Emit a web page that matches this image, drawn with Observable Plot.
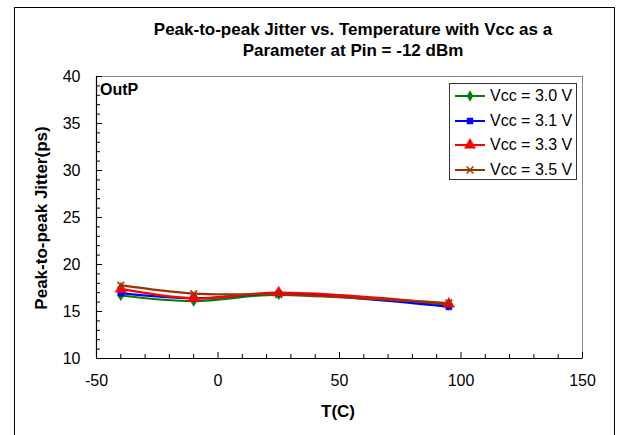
<!DOCTYPE html>
<html>
<head>
<meta charset="utf-8">
<script src="https://cdn.jsdelivr.net/npm/d3@7"></script>
<script src="https://cdn.jsdelivr.net/npm/@observablehq/plot@0.6"></script>
<style>
  html, body { margin: 0; padding: 0; background: #fff; }
  #wrap { position: relative; width: 618px; height: 435px; overflow: hidden; font-family: "Liberation Sans", Arial, sans-serif; }
  #border { position: absolute; left: 14px; top: 7px; width: 601px; height: 460px; border: 1px solid #000; box-sizing: border-box; }
  #chart { position: absolute; left: 0; top: 0; }
  .t { position: absolute; font-weight: bold; font-size: 17px; color: #000; white-space: nowrap; line-height: 20px; }
  #title { left: 353px; top: 19px; transform: translateX(-50%); text-align: center; line-height: 21px; }
  #ytitle { left: 42px; top: 218px; transform: translate(-50%, -50%) rotate(-90deg); }
  #xtitle { left: 338px; top: 412px; transform: translate(-50%, -50%); }
  #outp { left: 100px; top: 80px; font-size: 16px; }
  #legend { position: absolute; left: 449px; top: 83px; width: 128px; height: 97px; border: 1px solid #333; box-sizing: border-box; background: #fff; font-size: 16px; }
  .li { position: absolute; left: 4px; height: 20px; display: flex; align-items: center; white-space: nowrap; }
  .li svg { margin-right: 4px; }
</style>
</head>
<body>
<div id="wrap">
  <div id="border"></div>
  <div id="chart"></div>
  <div id="title" class="t">Peak-to-peak Jitter vs. Temperature with Vcc as a<br>Parameter at Pin = -12 dBm</div>
  <div id="ytitle" class="t">Peak-to-peak Jitter(ps)</div>
  <div id="xtitle" class="t">T(C)</div>
  <div id="outp" class="t">OutP</div>
  <div id="legend"></div>
</div>
<script>
// ---- data ----
const temps = [-40, -10, 25, 95];
const series = ["Vcc = 3.0 V", "Vcc = 3.1 V", "Vcc = 3.3 V", "Vcc = 3.5 V"];
const vcc30 = [16.7, 16.1, 16.8, 15.7];
const vcc31 = [16.95, 16.4, 16.9, 15.5];
const vcc33 = [17.4, 16.4, 17.0, 15.8];
const vcc35 = [17.8, 16.9, 16.8, 15.9];
const xTicks = [-50, 0, 50, 100, 150];
const yTicks = [10, 15, 20, 25, 30, 35, 40];

const colors = ["#008000", "#0000FF", "#FF0000", "#993300"];
const symbols = ["diamond", "square", "triangle", "times"];
const rs = [3.2, 3.4, 4.2, 3.2];

const values = [vcc30, vcc31, vcc33, vcc35];
const rows = [];
series.forEach((s, i) => temps.forEach((t, j) => rows.push({series: s, t, v: values[i][j]})));

const W = 618, H = 435;
const mL = 96, mR = 36, mT = 76, mB = 77;
const pw = W - mL - mR, ph = H - mT - mB;

const xMinor = d3.range(-40, 150, 10).filter(d => !xTicks.includes(d));
const yMinor = d3.range(11, 40, 1).filter(d => !yTicks.includes(d));

const marks = [
  Plot.frame({stroke: "#888", strokeWidth: 1}),
  Plot.tickY(yMinor, {y: d => d, stroke: "#000", insetRight: pw - 4}),
  Plot.tickY(yTicks, {y: d => d, stroke: "#000", insetRight: pw - 6}),
  Plot.tickX(xMinor, {x: d => d, stroke: "#000", insetTop: ph - 4}),
  Plot.tickX(xTicks, {x: d => d, stroke: "#000", insetTop: ph - 6}),
  Plot.ruleX([-50], {stroke: "#000", strokeWidth: 1.2}),
  Plot.ruleY([10], {stroke: "#000", strokeWidth: 1.2}),
  Plot.axisY({ticks: yTicks, tickSize: 0, tickPadding: 16, tickFormat: d => String(d), label: null, fontSize: 16}),
  Plot.axisX({ticks: xTicks, tickSize: 0, tickPadding: 16, tickFormat: d => String(d), label: null, fontSize: 16}),
];
series.forEach((s, i) => {
  const d = rows.filter(r => r.series === s);
  marks.push(Plot.line(d, {x: "t", y: "v", stroke: colors[i], strokeWidth: 2.2, curve: "catmull-rom"}));
});
series.forEach((s, i) => {
  const d = rows.filter(r => r.series === s);
  const isStroke = symbols[i] === "times";
  marks.push(Plot.dot(d, {x: "t", y: "v", symbol: () => symbols[i], r: rs[i],
    fill: isStroke ? "none" : colors[i], stroke: colors[i], strokeWidth: isStroke ? 1.5 : 0.5}));
});

const chart = Plot.plot({
  width: W, height: H,
  marginLeft: mL, marginRight: mR, marginTop: mT, marginBottom: mB,
  x: {domain: [-50, 150]},
  y: {domain: [10, 40]},
  symbol: {type: "identity"},
  style: {fontFamily: "'Liberation Sans', Arial, sans-serif", fontSize: "16px", color: "#000", background: "transparent", overflow: "visible"},
  marks
});
document.getElementById("chart").appendChild(chart);

// legend
const leg = document.getElementById("legend");
const ly = [2, 26.5, 51, 75.5];
series.forEach((s, i) => {
  const div = document.createElement("div");
  div.className = "li";
  div.style.top = ly[i] + "px";
  const sym = d3.symbol(d3["symbol" + symbols[i][0].toUpperCase() + symbols[i].slice(1)], Math.PI * rs[i] * rs[i])();
  const isStroke = symbols[i] === "times";
  div.innerHTML = `<svg width="32" height="20"><line x1="1" x2="31" y1="10" y2="10" stroke="${colors[i]}" stroke-width="2"/>` +
    `<path d="${sym}" transform="translate(16,10)" fill="${isStroke ? "none" : colors[i]}" stroke="${colors[i]}" stroke-width="${isStroke ? 1.5 : 0.5}"/></svg><span>${s}</span>`;
  leg.appendChild(div);
});
</script>
</body>
</html>
